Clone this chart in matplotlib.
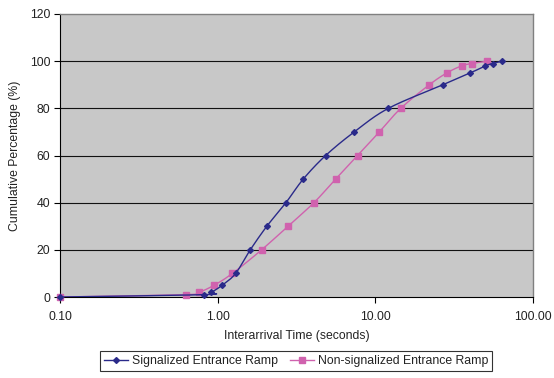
import numpy as np
import matplotlib
matplotlib.use("Agg")
import matplotlib.pyplot as plt
from matplotlib.lines import Line2D

plt.rcParams['font.family'] = ['Liberation Sans', 'DejaVu Sans']

sig_x = [0.10, 0.82, 0.91, 1.07, 1.30, 1.61, 2.05, 2.71, 3.49, 4.84, 7.35, 12.1, 26.8, 40.0, 49.8, 55.4, 63.6]
sig_y = [0, 1, 2, 5, 10, 20, 30, 40, 50, 60, 70, 80, 90, 95, 98, 99, 100]
non_x = [0.10, 0.63, 0.76, 0.95, 1.24, 1.90, 2.79, 4.08, 5.60, 7.73, 10.6, 14.5, 22.0, 28.4, 35.2, 40.8, 51.1]
non_y = [0, 1, 2, 5, 10, 20, 30, 40, 50, 60, 70, 80, 90, 95, 98, 99, 100]
x_ticks = [0.1, 1, 10, 100]
x_tick_labels = ["0.10", "1.00", "10.00", "100.00"]
y_ticks = [0, 20, 40, 60, 80, 100, 120]

SIG_COLOR = '#2A2A8A'
NON_COLOR = '#D062AE'


def smooth(xs, ys, n=30):
    # Excel-style smoothed line (cubic Bezier, Catmull-Rom control points) in display-like space
    u = np.log10(np.asarray(xs, float)) * 157.3
    v = np.asarray(ys, float) * 2.36
    P = np.column_stack([u, v])
    out = [P[0]]
    m = len(P)
    for i in range(m - 1):
        p0 = P[i - 1] if i > 0 else P[i]
        p1 = P[i]
        p2 = P[i + 1]
        p3 = P[i + 2] if i + 2 < m else P[i + 1]
        c1 = p1 + (p2 - p0) / 6.0
        c2 = p2 - (p3 - p1) / 6.0
        t = np.linspace(0, 1, n)[1:, None]
        b = ((1 - t) ** 3) * p1 + 3 * ((1 - t) ** 2) * t * c1 + 3 * (1 - t) * t ** 2 * c2 + t ** 3 * p2
        out.extend(b)
    out = np.array(out)
    return 10 ** (out[:, 0] / 157.3), out[:, 1] / 2.36


fig = plt.figure(figsize=(5.54, 3.78), dpi=100)
ax = fig.add_axes([60 / 554, 1 - 297 / 378, (533 - 60) / 554, (297 - 14) / 378])
ax.set_facecolor('#C8C8C8')
ax.set_xscale('log')
ax.set_xlim(0.1, 100)
ax.set_ylim(0, 120)

for yv in y_ticks[1:-1]:
    ax.axhline(yv, color='#111111', lw=0.8, zorder=1)

sx, sy = smooth(sig_x, sig_y)
nx, ny = smooth(non_x, non_y)
ax.plot(nx, ny, color=NON_COLOR, lw=1.0, zorder=2)
ax.plot(non_x, non_y, ls='none', marker='s', ms=4.2, color=NON_COLOR, zorder=3, clip_on=False)
ax.plot(sx, sy, color=SIG_COLOR, lw=1.0, zorder=4)
ax.plot(sig_x, sig_y, ls='none', marker='D', ms=3.0, color=SIG_COLOR, zorder=5, clip_on=False)

ax.set_xticks(x_ticks)
ax.set_xticklabels(x_tick_labels)
ax.xaxis.set_minor_locator(matplotlib.ticker.NullLocator())
ax.set_yticks(y_ticks)
ax.tick_params(axis='both', direction='out', length=4, width=0.8, color='#000000',
               labelsize=8.8, labelcolor='#222222', pad=3)
ax.tick_params(axis='x', pad=6)

for s in ['top', 'right']:
    ax.spines[s].set_color('#808080')
    ax.spines[s].set_linewidth(1.0)
for s in ['left', 'bottom']:
    ax.spines[s].set_color('#000000')
    ax.spines[s].set_linewidth(0.8)

ax.set_xlabel('Interarrival Time (seconds)', fontsize=8.8, color='#222222', labelpad=5)
ax.set_ylabel('Cumulative Percentage (%)', fontsize=8.8, color='#222222', labelpad=6)

handles = [
    Line2D([], [], color=SIG_COLOR, marker='D', ms=3.0, lw=1.0),
    Line2D([], [], color=NON_COLOR, marker='s', ms=4.2, lw=1.0),
]
leg = fig.legend(handles, ['Signalized Entrance Ramp', 'Non-signalized Entrance Ramp'],
                 loc='center', bbox_to_anchor=(296 / 554, 1 - 361 / 378), ncol=2,
                 fontsize=8.8, frameon=True, fancybox=False, handlelength=2.0,
                 handletextpad=0.3, columnspacing=1.0, borderpad=0.3)
leg.get_frame().set_edgecolor('#000000')
leg.get_frame().set_linewidth(0.8)
for t in leg.get_texts():
    t.set_color('#222222')

fig.savefig('out.png', dpi=100, facecolor='white')
